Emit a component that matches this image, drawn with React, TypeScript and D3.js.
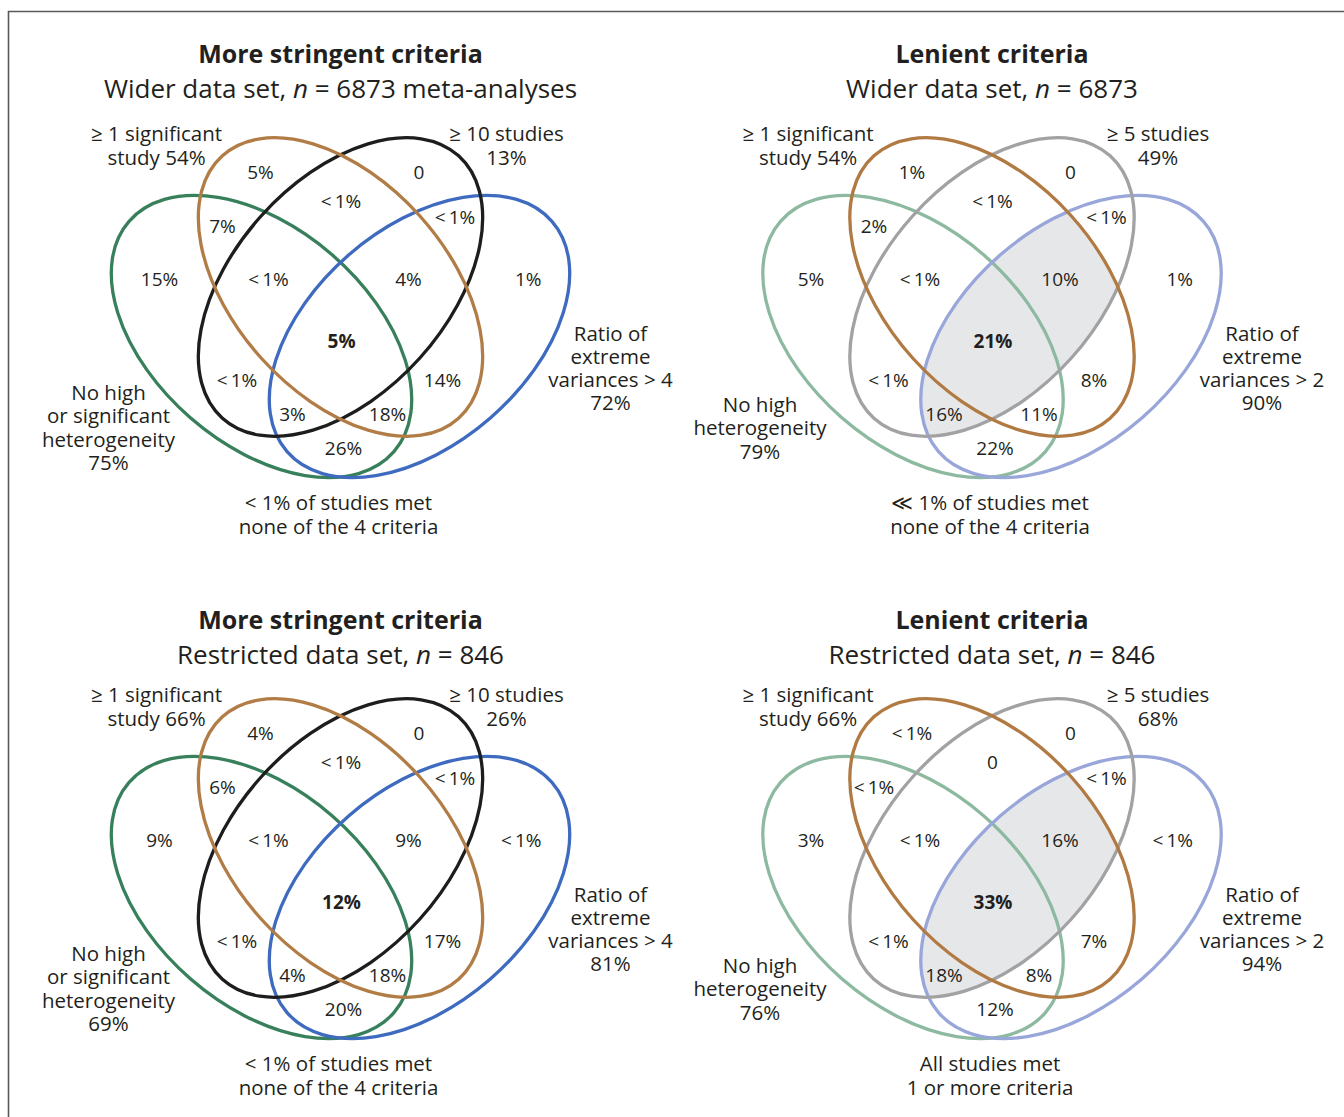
import { useEffect, useRef } from 'react'
import * as d3 from 'd3'

const WIDTH = 1344
const HEIGHT = 1117
const FONT = '"Open Sans", "Noto Sans", sans-serif'
const TEXT_COLOR = '#231f20'
const SHADE_COLOR = '#e6e7e9'
const FRAME_COLOR = '#595959'

// every panel lists its regions in this order
const REGION_KEYS = [
  'G', 'Br', 'Bk', 'Bl',
  'G_Br', 'Br_Bk', 'Bk_Bl',
  'G_Br_Bk', 'Br_Bk_Bl', 'all',
  'G_Bk', 'Br_Bl',
  'G_Bk_Bl', 'G_Br_Bl', 'G_Bl',
]

const LT = '<\u20091%'
const wideStrictValues = ['15%', '5%', '0', '1%', '7%', LT, LT, LT, '4%', '5%', LT, '14%', '3%', '18%', '26%']
const wideLenientValues = ['5%', '1%', '0', '1%', '2%', LT, LT, LT, '10%', '21%', LT, '8%', '16%', '11%', '22%']
const restrictedStrictValues = ['9%', '4%', '0', LT, '6%', LT, LT, LT, '9%', '12%', LT, '17%', '4%', '18%', '20%']
const restrictedLenientValues = ['3%', LT, '0', LT, LT, '0', LT, LT, '16%', '33%', LT, '7%', '18%', '8%', '12%']

const panelValues = [wideStrictValues, wideLenientValues, restrictedStrictValues, restrictedLenientValues]
const panelKinds = ['strict', 'lenient', 'strict', 'lenient']
const panelTitles = ['More stringent criteria', 'Lenient criteria', 'More stringent criteria', 'Lenient criteria']
const panelSubtitles = [
  ['Wider data set, ', ' = 6873 meta-analyses'],
  ['Wider data set, ', ' = 6873'],
  ['Restricted data set, ', ' = 846'],
  ['Restricted data set, ', ' = 846'],
]

const significantLabels = [
  ['\u2265 1 significant', 'study 54%'],
  ['\u2265 1 significant', 'study 54%'],
  ['\u2265 1 significant', 'study 66%'],
  ['\u2265 1 significant', 'study 66%'],
]
const studiesLabels = [
  ['\u2265 10 studies', '13%'],
  ['\u2265 5 studies', '49%'],
  ['\u2265 10 studies', '26%'],
  ['\u2265 5 studies', '68%'],
]
const varianceLabels = [
  ['Ratio of', 'extreme', 'variances > 4', '72%'],
  ['Ratio of', 'extreme', 'variances > 2', '90%'],
  ['Ratio of', 'extreme', 'variances > 4', '81%'],
  ['Ratio of', 'extreme', 'variances > 2', '94%'],
]
const heterogeneityLabels = [
  ['No high', 'or significant', 'heterogeneity', '75%'],
  ['No high', 'heterogeneity', '79%'],
  ['No high', 'or significant', 'heterogeneity', '69%'],
  ['No high', 'heterogeneity', '76%'],
]
const noneLabels = [
  ['< 1% of studies met', 'none of the 4 criteria'],
  ['\u226a 1% of studies met', 'none of the 4 criteria'],
  ['< 1% of studies met', 'none of the 4 criteria'],
  ['All studies met', '1 or more criteria'],
]

const COLORS: Record<string, Record<string, string>> = {
  strict: { G: '#37805b', Br: '#b17c45', Bk: '#1d1d1d', Bl: '#3e6bbf' },
  lenient: { G: '#8db9a0', Br: '#b17a43', Bk: '#a2a2a4', Bl: '#98a6da' },
}

// one venn shape, in px around the panel centre
const ELLIPSES = [
  { key: 'G', cx: -79, cy: 49.5, rx: 175.5, ry: 108, angle: 41 },
  { key: 'Bl', cx: 79, cy: 49.5, rx: 175.5, ry: 108, angle: -41 },
  { key: 'Bk', cx: 0, cy: 0, rx: 176.5, ry: 106.5, angle: -48 },
  { key: 'Br', cx: 0, cy: 0, rx: 176.5, ry: 106.5, angle: 48 },
]

// where each region's number sits, around the panel centre
const REGION_ANCHORS: Record<string, { x: number; y: number; anchor?: string }> = {
  G: { x: -181, y: -8 },
  Br: { x: -80, y: -115 },
  Bk: { x: 78.5, y: -115 },
  Bl: { x: 201, y: -8, anchor: 'end' },
  G_Br: { x: -118, y: -61 },
  Br_Bk: { x: 0.5, y: -86 },
  Bk_Bl: { x: 114.5, y: -70 },
  G_Br_Bk: { x: -72, y: -8 },
  Br_Bk_Bl: { x: 68, y: -8 },
  all: { x: 1, y: 54 },
  G_Bk: { x: -103.5, y: 93.5 },
  Br_Bl: { x: 102, y: 93.5 },
  G_Bk_Bl: { x: -48, y: 127 },
  G_Br_Bl: { x: 47, y: 127 },
  G_Bl: { x: 3, y: 161 },
}

const HEADER_Y = [54, 620]
const LABEL_SIZE = 20.5

type Sel = d3.Selection<SVGGElement, unknown, null, undefined>

function addLines(
  g: Sel,
  lines: string[],
  x: number,
  firstY: number,
  step: number,
  size: number
) {
  const text = g
    .append('text')
    .attr('text-anchor', 'middle')
    .attr('font-size', size)
    .attr('fill', TEXT_COLOR)
  lines.forEach((line, i) => {
    text
      .append('tspan')
      .attr('x', x)
      .attr('y', firstY + i * step)
      .attr('dy', '0.35em')
      .text(line)
  })
}

function ellipseTransform(e: (typeof ELLIPSES)[number]) {
  return `translate(${e.cx},${e.cy}) rotate(${e.angle})`
}

export default function App() {
  const svgRef = useRef<SVGSVGElement>(null)

  useEffect(() => {
    const svgEl = svgRef.current
    if (!svgEl) return
    const svg = d3.select(svgEl)
    svg.selectAll('*').remove()

    const xPanel = d3.scalePoint<number>().domain([0, 1]).range([340.5, 992])
    const yPanel = d3.scalePoint<number>().domain([0, 1]).range([287, 848])

    svg
      .append('path')
      .attr('d', `M8.5,${HEIGHT} V11.5 H${WIDTH}`)
      .attr('fill', 'none')
      .attr('stroke', FRAME_COLOR)
      .attr('stroke-width', 1.6)

    const defs = svg.append('defs')

    panelValues.forEach((values, p) => {
      const col = p % 2
      const row = Math.floor(p / 2)
      const kind = panelKinds[p]
      const colors = COLORS[kind]
      const ox = xPanel(col) ?? 0
      const oy = yPanel(row) ?? 0

      const head = svg
        .append('g')
        .attr('font-family', FONT)
        .attr('fill', TEXT_COLOR)
        .attr('text-anchor', 'middle')
      head
        .append('text')
        .attr('x', ox)
        .attr('y', HEADER_Y[row])
        .attr('dy', '0.35em')
        .attr('font-size', 25)
        .attr('font-weight', 700)
        .text(panelTitles[p])
      const sub = head
        .append('text')
        .attr('x', ox)
        .attr('y', HEADER_Y[row] + 35)
        .attr('dy', '0.35em')
        .attr('font-size', 26)
      sub.append('tspan').text(panelSubtitles[p][0])
      sub.append('tspan').attr('font-style', 'italic').text('n')
      sub.append('tspan').text(panelSubtitles[p][1])

      const g = svg
        .append('g')
        .attr('transform', `translate(${ox},${oy})`)
        .attr('font-family', FONT) as Sel

      if (kind === 'lenient') {
        const byKey = (k: string) => ELLIPSES.find((e) => e.key === k)!
        for (const k of ['Bk', 'Bl']) {
          const e = byKey(k)
          defs
            .append('clipPath')
            .attr('id', `clip-${k}-${p}`)
            .append('ellipse')
            .attr('rx', e.rx)
            .attr('ry', e.ry)
            .attr('transform', `translate(${ox},${oy}) ${ellipseTransform(e)}`)
        }
        const shade = g
          .append('g')
          .attr('transform', `translate(${-ox},${-oy})`)
          .attr('clip-path', `url(#clip-Bk-${p})`)
          .append('g')
          .attr('clip-path', `url(#clip-Bl-${p})`)
          .append('g')
          .attr('transform', `translate(${ox},${oy})`)
        for (const k of ['Br', 'G']) {
          const e = byKey(k)
          shade
            .append('ellipse')
            .attr('rx', e.rx)
            .attr('ry', e.ry)
            .attr('transform', ellipseTransform(e))
            .attr('fill', SHADE_COLOR)
        }
      }

      g.selectAll('ellipse.set')
        .data(ELLIPSES)
        .join('ellipse')
        .attr('class', 'set')
        .attr('rx', (d) => d.rx)
        .attr('ry', (d) => d.ry)
        .attr('transform', (d) => ellipseTransform(d))
        .attr('fill', 'none')
        .attr('stroke', (d) => colors[d.key])
        .attr('stroke-width', 3.3)

      g.selectAll('text.region')
        .data(REGION_KEYS.map((key, i) => ({ key, value: values[i] })))
        .join('text')
        .attr('class', 'region')
        .attr('x', (d) => REGION_ANCHORS[d.key].x)
        .attr('y', (d) => REGION_ANCHORS[d.key].y)
        .attr('dy', '0.35em')
        .attr('text-anchor', (d) => REGION_ANCHORS[d.key].anchor ?? 'middle')
        .attr('font-size', 19)
        .attr('font-weight', (d) => (d.key === 'all' ? 700 : 400))
        .attr('fill', TEXT_COLOR)
        .text((d) => d.value)

      addLines(g, significantLabels[p], -184, -153, 24, LABEL_SIZE)
      addLines(g, studiesLabels[p], 166, -153, 24, LABEL_SIZE)
      addLines(g, varianceLabels[p], 270, 47, 23, LABEL_SIZE)
      const het = heterogeneityLabels[p]
      addLines(g, het, -232, 141 - ((het.length - 1) * 23.5) / 2, 23.5, LABEL_SIZE)
      addLines(g, noneLabels[p], -2, 216, 24, LABEL_SIZE)
    })
  }, [])

  return (
    <svg
      ref={svgRef}
      width={WIDTH}
      height={HEIGHT}
      style={{ position: 'absolute', left: 0, top: 0, background: '#fff' }}
    />
  )
}
